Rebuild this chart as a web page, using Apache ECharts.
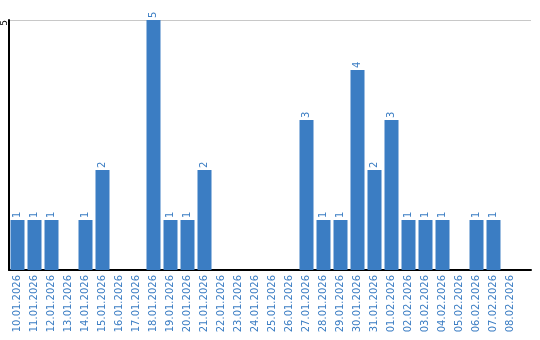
<!DOCTYPE html>
<html><head><meta charset="utf-8">
<script src="https://cdn.jsdelivr.net/npm/echarts@6/dist/echarts.min.js"></script>
<style>html,body{margin:0;padding:0;background:#fff}#c{width:540px;height:340px}</style>
</head><body><div id="c"></div>
<script>
var categories = ["10.01.2026","11.01.2026","12.01.2026","13.01.2026","14.01.2026","15.01.2026","16.01.2026","17.01.2026","18.01.2026","19.01.2026","20.01.2026","21.01.2026","22.01.2026","23.01.2026","24.01.2026","25.01.2026","26.01.2026","27.01.2026","28.01.2026","29.01.2026","30.01.2026","31.01.2026","01.02.2026","02.02.2026","03.02.2026","04.02.2026","05.02.2026","06.02.2026","07.02.2026","08.02.2026"];
var values = [1,1,1,0,1,2,0,0,5,1,1,2,0,0,0,0,0,3,1,1,4,2,3,1,1,1,0,1,1,0];
var blue = '#3b7dc3';
var chart = echarts.init(document.getElementById('c'), null, {renderer:'canvas'});
chart.setOption({
  animation:false,
  grid:[{left:9, top:20, width:510, bottom:70, containLabel:false},
        {left:9, top:20, width:522, bottom:70, containLabel:false}],
  xAxis:[{type:'category', data:categories, gridIndex:0,
    axisLine:{show:false},
    axisTick:{show:false},
    axisLabel:{rotate:90, interval:0, color:blue, fontSize:10, fontFamily:'DejaVu Sans', margin:5}
  },{type:'value', gridIndex:1, min:0, max:1, axisLine:{show:true, lineStyle:{color:'#000', width:2}},
    axisTick:{show:false}, axisLabel:{show:false}, splitLine:{show:false}}],
  yAxis:[{type:'value', min:0, max:5, interval:5, gridIndex:0,
    axisLine:{show:true, lineStyle:{color:'#000', width:2}},
    axisTick:{show:false},
    splitLine:{show:false},
    axisLabel:{rotate:90, color:'#000', fontSize:9, fontFamily:'DejaVu Sans', margin:4, align:'right', verticalAlign:'middle',
      formatter:function(v){return v===0?'':String(v);}}
  },{type:'value', gridIndex:1, min:0, max:5, interval:5, axisLine:{show:false}, axisTick:{show:false},
    axisLabel:{show:false}, splitLine:{lineStyle:{color:'#c8c8c8'}}, z:0}],
  series:[{type:'bar', data:values.map(function(v){return v===0?null:v;}), barWidth:14,
    xAxisIndex:0, yAxisIndex:0, z:5,
    itemStyle:{color:blue},
    label:{show:true, position:'top', rotate:90, align:'left', verticalAlign:'middle', distance:2,
      color:blue, fontSize:10, fontFamily:'DejaVu Sans'}
  }]
});
</script></body></html>
